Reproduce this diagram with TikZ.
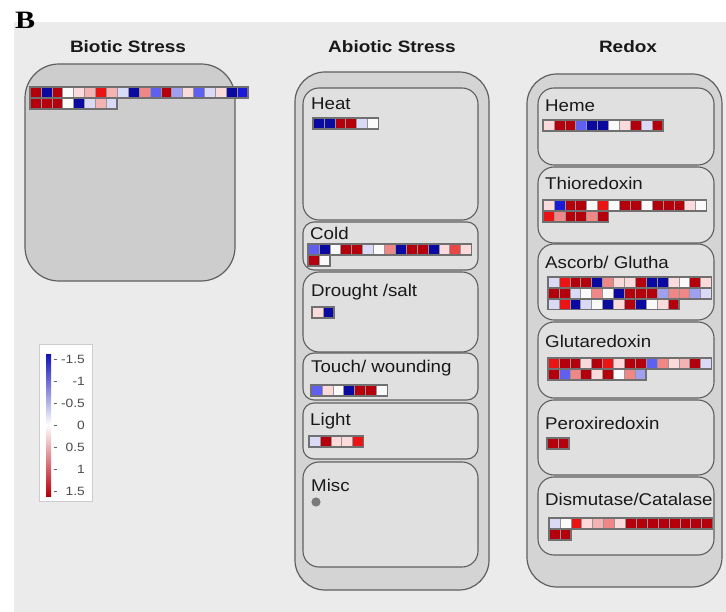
\documentclass[tikz,border=0pt]{standalone}
\usepackage{fontspec}
\setmainfont{Liberation Sans}
\newfontfamily\labfont[FakeStretch=1.1]{Liberation Sans}
\newfontfamily\titfont[FakeStretch=1.15]{Liberation Sans}
\newfontfamily\legfont[FakeStretch=1.15]{Liberation Sans}
\newfontfamily\serifbold[FakeStretch=1.2]{Liberation Serif}
\definecolor{bgc}{RGB}{235,235,235}
\definecolor{boxline}{RGB}{95,95,95}
\definecolor{bioticfill}{RGB}{205,205,205}
\definecolor{outerfill}{RGB}{212,212,212}
\definecolor{innerfill}{RGB}{224,224,224}
\definecolor{cellline}{RGB}{150,150,150}
\definecolor{gridline}{RGB}{112,112,112}
\definecolor{txt}{RGB}{25,25,25}
\definecolor{cN}{RGB}{10,10,160}
\definecolor{cX}{RGB}{25,25,215}
\definecolor{cB}{RGB}{95,95,240}
\definecolor{cL}{RGB}{160,160,240}
\definecolor{cV}{RGB}{218,218,246}
\definecolor{cW}{RGB}{250,250,250}
\definecolor{cP}{RGB}{250,218,218}
\definecolor{cK}{RGB}{245,178,178}
\definecolor{cS}{RGB}{240,135,135}
\definecolor{cT}{RGB}{235,70,70}
\definecolor{cR}{RGB}{235,20,20}
\definecolor{cD}{RGB}{180,0,12}
\def\cs{10.9}
\newcommand\hmrow[4]{%
  \foreach \cc [count=\ii from 0] in {#4} {
    \filldraw[fill=c\cc, draw=cellline, line width=0.5pt] ({#1+\ii*\cs},{#2}) rectangle ++(\cs,\cs);
  }
  \draw[draw=gridline, line width=1.5pt] (#1,#2) rectangle ++({#3*\cs},\cs);
}
\tikzset{
  bioticbox/.style={fill=bioticfill, draw=boxline, line width=1.2pt, rounded corners=34pt},
  outerbox/.style={fill=outerfill, draw=boxline, line width=1.2pt, rounded corners=30pt},
  innerbox/.style={fill=innerfill, draw=boxline, line width=1.1pt, rounded corners=16pt},
  smallbox/.style={fill=innerfill, draw=boxline, line width=1.1pt, rounded corners=11pt},
  lab/.style={anchor=base west, inner sep=0pt, text=txt, font=\labfont\fontsize{17}{19}\selectfont},
  tit/.style={anchor=base, inner sep=0pt, text=txt, font=\titfont\bfseries\fontsize{16.5}{19}\selectfont},
  leg/.style={anchor=base east, inner sep=0pt, text=black!70, font=\legfont\fontsize{12}{13}\selectfont},
}
\begin{document}
\begin{tikzpicture}[x=1pt,y=-1pt]
\useasboundingbox (0,0) rectangle (726,612);
\fill[white] (0,0) rectangle (726,612);
\fill[bgc] (14,22) rectangle (726,612);

\node[anchor=base west, inner sep=0pt, font=\serifbold\bfseries\fontsize{25}{28}\selectfont] (lblB) at (15,29) {B};

\node[tit] (tBiotic) at (128,53) {Biotic Stress};
\node[tit] (tAbiotic) at (392,53) {Abiotic Stress};
\node[tit] (tRedox) at (628,53) {Redox};

% Biotic
\draw[bioticbox] (25,64) rectangle (235,281);
\hmrow{30}{87}{20}{D,N,D,W,P,K,R,K,V,N,S,B,D,L,P,B,V,P,N,X}
\hmrow{30}{97.9}{8}{D,D,D,W,N,V,K,V}

% Abiotic
\draw[outerbox] (295,72) rectangle (489,590);
\draw[innerbox] (303,88) rectangle (478,220);
\draw[smallbox] (303,222) rectangle (478,270);
\draw[innerbox] (303,272) rectangle (478,352);
\draw[smallbox] (303,353) rectangle (478,400);
\draw[smallbox] (303,403) rectangle (478,459);
\draw[innerbox] (303,462) rectangle (478,567);
\node[lab] (lHeat) at (311,110) {Heat};
\node[lab] (lCold) at (310,240) {Cold};
\node[lab] (lDrought) at (311,297) {Drought /salt};
\node[lab] (lTouch) at (311,373) {Touch/ wounding};
\node[lab] (lLight) at (310,425) {Light};
\node[lab] (lMisc) at (311,491) {Misc};
\hmrow{313}{118}{6}{N,N,D,D,V,W}
\hmrow{308}{244}{15}{B,N,W,D,D,V,W,S,N,D,D,N,P,T,P}
\hmrow{308}{254.9}{2}{D,W}
\hmrow{312}{307}{2}{P,N}
\hmrow{311}{385}{7}{B,P,W,N,D,D,W}
\hmrow{309}{436}{5}{V,D,P,P,R}
\fill[black!52] (316,502) circle (4.6pt);

% Redox
\draw[outerbox] (527,74) rectangle (722,587);
\draw[innerbox] (538,88) rectangle (714,165);
\draw[innerbox] (538,167) rectangle (714,243);
\draw[innerbox] (538,244) rectangle (714,320);
\draw[innerbox] (538,322) rectangle (714,398);
\draw[innerbox] (538,400) rectangle (714,475);
\draw[innerbox] (538,477) rectangle (714,555);
\node[lab] (lHeme) at (545,112) {Heme};
\node[lab] (lThio) at (545,190) {Thioredoxin};
\node[lab] (lAsc) at (545,269) {Ascorb/ Glutha};
\node[lab] (lGlut) at (545,348) {Glutaredoxin};
\node[lab] (lPerox) at (545,429) {Peroxiredoxin};
\node[lab] (lDism) at (545,505) {Dismutase/Catalase};
\hmrow{543}{120}{11}{P,D,D,B,N,N,W,P,D,V,D}
\hmrow{543}{200}{15}{P,X,D,D,W,R,W,D,D,W,D,D,D,P,W}
\hmrow{543}{210.9}{6}{R,S,D,D,S,D}
\hmrow{548}{277}{15}{V,R,D,D,N,S,P,P,D,N,N,P,W,D,P}
\hmrow{548}{287.9}{15}{D,D,V,W,S,W,N,D,D,D,L,S,S,L,V}
\hmrow{548}{298.8}{12}{V,R,N,V,W,N,P,D,N,W,P,D}
\hmrow{548}{358}{15}{R,D,D,P,D,R,P,D,D,B,S,P,K,D,V}
\hmrow{548}{368.9}{9}{D,B,S,D,P,D,W,S,L}
\hmrow{547}{438}{2}{D,D}
\hmrow{549}{518}{15}{V,W,R,P,K,S,P,D,D,D,D,D,D,D,D}
\hmrow{549}{528.9}{2}{D,D}

% Legend
\draw[fill=white, draw=black!20, line width=0.8pt] (39,344) rectangle (92,501);
\shade[top color=cX!85!black, bottom color=white] (46,355) rectangle (51,425);
\shade[top color=white, bottom color=cD] (46,425) rectangle (51,496);
\foreach \yy in {359,381,403,425,447,469,491} {
  \draw[black!60, line width=0.9pt] (53.5,\yy) -- (56.5,\yy);
}
\node[leg] (g1) at (85,363) {-1.5};
\node[leg] (g2) at (85,385) {-1};
\node[leg] (g3) at (85,407) {-0.5};
\node[leg] (g4) at (85,429) {0};
\node[leg] (g5) at (85,451) {0.5};
\node[leg] (g6) at (85,473) {1};
\node[leg] (g7) at (85,495) {1.5};
\end{tikzpicture}
\end{document}
